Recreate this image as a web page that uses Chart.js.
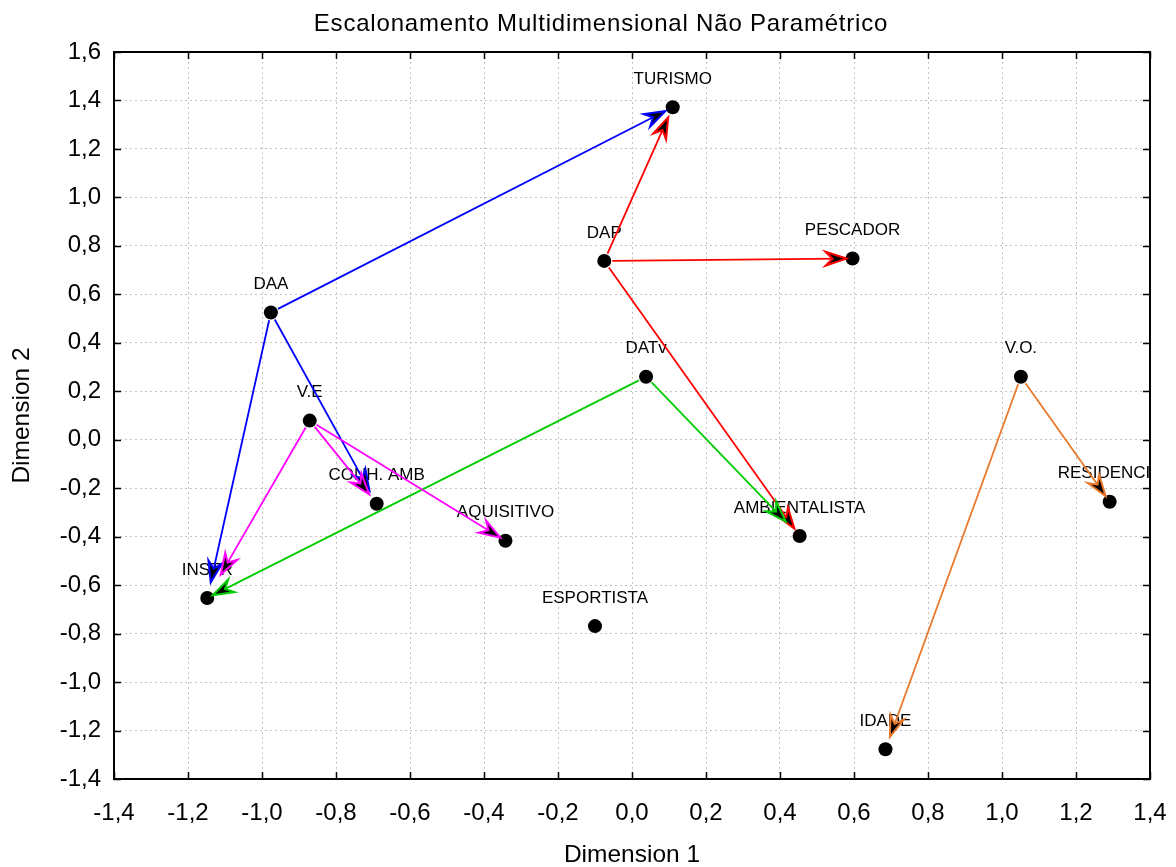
<!DOCTYPE html>
<html>
<head>
<meta charset="utf-8">
<script src="https://cdn.jsdelivr.net/npm/chart.js@4"></script>
<style>
  html, body { margin: 0; padding: 0; background: #fff; }
  #wrap { width: 1176px; height: 867px; }
</style>
</head>
<body>
<div id="wrap"><canvas id="mds" width="1176" height="867"></canvas></div>
<script>
// point names and coordinates
const names = ['TURISMO', 'DAP', 'PESCADOR', 'DAA', 'DATv', 'V.O.', 'V.E', 'CONH. AMB',
  'RESIDENCIA', 'AQUISITIVO', 'AMBIENTALISTA', 'INSTR', 'ESPORTISTA', 'IDADE'];
const dim1 = [0.11, -0.075, 0.596, -0.976, 0.038, 1.051, -0.871, -0.69,
  1.291, -0.342, 0.453, -1.148, -0.10, 0.685];
const dim2 = [1.372, 0.738, 0.748, 0.525, 0.26, 0.26, 0.079, -0.264,
  -0.256, -0.417, -0.397, -0.653, -0.769, -1.277];

// arrows between points
const arrowFrom = ['DAA', 'DAA', 'DAA', 'DAP', 'DAP', 'DAP', 'DATv', 'DATv',
  'V.E', 'V.E', 'V.E', 'V.O.', 'V.O.'];
const arrowTo = ['TURISMO', 'CONH. AMB', 'INSTR', 'TURISMO', 'PESCADOR', 'AMBIENTALISTA',
  'INSTR', 'AMBIENTALISTA', 'INSTR', 'CONH. AMB', 'AQUISITIVO', 'RESIDENCIA', 'IDADE'];
// how far (px) each arrow tip stops before its target
const arrowGap = [8, 15, 16, 11, 6, 9, 6, 20, 27, 12, 6, 7, 13];

const xTicks = [-1.4, -1.2, -1.0, -0.8, -0.6, -0.4, -0.2, 0, 0.2, 0.4, 0.6, 0.8, 1.0, 1.2, 1.4];
const yTicks = [-1.4, -1.2, -1.0, -0.8, -0.6, -0.4, -0.2, 0, 0.2, 0.4, 0.6, 0.8, 1.0, 1.2, 1.4, 1.6];

const arrowColors = {
  'DAA': '#0000ff',
  'DAP': '#ff0000',
  'DATv': '#00cc00',
  'V.E': '#ff00ff',
  'V.O.': '#e8782a'
};

const FONT = 'Arial, "Liberation Sans", Helvetica, sans-serif';

function fmt(v) {
  if (Math.abs(v) < 1e-9) v = 0;
  return v.toFixed(1).replace('.', ',');
}

function drawArrow(ctx, x1, y1, x2, y2, gap, color) {
  const ang = Math.atan2(y2 - y1, x2 - x1);
  const c = Math.cos(ang), s = Math.sin(ang);
  const sx = x1 + c * 8, sy = y1 + s * 8;
  const ex = x2 - c * gap, ey = y2 - s * gap;
  ctx.save();
  ctx.strokeStyle = color;
  ctx.lineWidth = 1.8;
  ctx.beginPath();
  ctx.moveTo(sx, sy);
  ctx.lineTo(ex - c * 8, ey - s * 8);
  ctx.stroke();
  // notched head
  ctx.translate(ex, ey);
  ctx.rotate(ang);
  ctx.beginPath();
  ctx.moveTo(0, 0);
  ctx.lineTo(-21, -7);
  ctx.lineTo(-14, 0);
  ctx.lineTo(-21, 7);
  ctx.closePath();
  ctx.fillStyle = '#000';
  ctx.fill();
  ctx.lineJoin = 'miter';
  ctx.lineWidth = 2;
  ctx.stroke();
  ctx.restore();
}

const overlay = {
  id: 'overlay',
  afterDatasetsDraw(chart) {
    const { ctx, chartArea, scales } = chart;
    const xs = scales.x, ys = scales.y;
    ctx.save();
    ctx.beginPath();
    ctx.rect(chartArea.left, chartArea.top, chartArea.right - chartArea.left, chartArea.bottom - chartArea.top);
    ctx.clip();
    // point labels
    ctx.fillStyle = '#000';
    ctx.font = '17px ' + FONT;
    ctx.textAlign = 'center';
    ctx.textBaseline = 'middle';
    names.forEach((n, i) => {
      ctx.fillText(n, xs.getPixelForValue(dim1[i]), ys.getPixelForValue(dim2[i]) - 28);
    });
    // arrows
    arrowFrom.forEach((f, k) => {
      const a = names.indexOf(f), b = names.indexOf(arrowTo[k]);
      drawArrow(ctx,
        xs.getPixelForValue(dim1[a]), ys.getPixelForValue(dim2[a]),
        xs.getPixelForValue(dim1[b]), ys.getPixelForValue(dim2[b]),
        arrowGap[k], arrowColors[f]);
    });
    ctx.restore();
  },
  afterDraw(chart) {
    const { ctx, chartArea, scales } = chart;
    const { left, right, top, bottom } = chartArea;
    ctx.save();
    ctx.strokeStyle = '#000';
    ctx.lineWidth = 2;
    ctx.strokeRect(left, top, right - left, bottom - top);
    ctx.beginPath();
    xTicks.forEach(v => {
      const px = Math.round(scales.x.getPixelForValue(v)) + 0.5;
      ctx.moveTo(px, bottom); ctx.lineTo(px, bottom - 7);
      ctx.moveTo(px, top); ctx.lineTo(px, top + 7);
    });
    yTicks.forEach(v => {
      const py = Math.round(scales.y.getPixelForValue(v)) + 0.5;
      ctx.moveTo(left, py); ctx.lineTo(left + 7, py);
      ctx.moveTo(right, py); ctx.lineTo(right - 7, py);
    });
    ctx.lineWidth = 1.5;
    ctx.stroke();
    // title
    ctx.fillStyle = '#000';
    ctx.font = '24px ' + FONT;
    ctx.letterSpacing = '0.8px';
    ctx.textAlign = 'center';
    ctx.textBaseline = 'middle';
    ctx.fillText('Escalonamento Multidimensional Não Paramétrico', 601, 24);
    ctx.restore();
  }
};

new Chart(document.getElementById('mds'), {
  type: 'scatter',
  data: {
    datasets: [{
      data: names.map((n, i) => ({ x: dim1[i], y: dim2[i] })),
      pointRadius: 7,
      pointBackgroundColor: '#000',
      pointBorderWidth: 0
    }]
  },
  options: {
    responsive: false,
    animation: false,
    layout: { padding: { top: 52, right: 26, left: 0, bottom: 0 } },
    plugins: { legend: { display: false }, tooltip: { enabled: false }, title: { display: false } },
    scales: {
      x: {
        type: 'linear',
        min: -1.4, max: 1.4,
        afterFit: s => { s.height = 88; s.paddingLeft = 0; s.paddingRight = 0; },
        afterBuildTicks: s => { s.ticks = xTicks.map(v => ({ value: v })); },
        ticks: { callback: v => fmt(v), color: '#000', font: { family: FONT, size: 24 }, padding: 20, maxRotation: 0, autoSkip: false },
        grid: { color: '#c4c4c4', lineWidth: 1, drawTicks: false },
        border: { display: true, color: '#000', width: 2, dash: [2, 3] },
        title: { display: true, text: 'Dimension 1', color: '#000', font: { family: FONT, size: 24.5, lineHeight: 1 }, padding: { top: 0, bottom: 0 } }
      },
      y: {
        type: 'linear',
        min: -1.4, max: 1.6,
        afterFit: s => { s.width = 114; s.paddingTop = 0; s.paddingBottom = 0; },
        afterBuildTicks: s => { s.ticks = yTicks.map(v => ({ value: v })); },
        ticks: { callback: v => fmt(v), color: '#000', font: { family: FONT, size: 24 }, padding: 13, autoSkip: false },
        grid: { color: '#c4c4c4', lineWidth: 1, drawTicks: false },
        border: { display: true, color: '#000', width: 2, dash: [2, 3] },
        title: { display: true, text: 'Dimension 2', color: '#000', font: { family: FONT, size: 24.5, lineHeight: 1 }, padding: { top: 10, bottom: 0 } }
      }
    }
  },
  plugins: [overlay]
});
</script>
</body>
</html>
